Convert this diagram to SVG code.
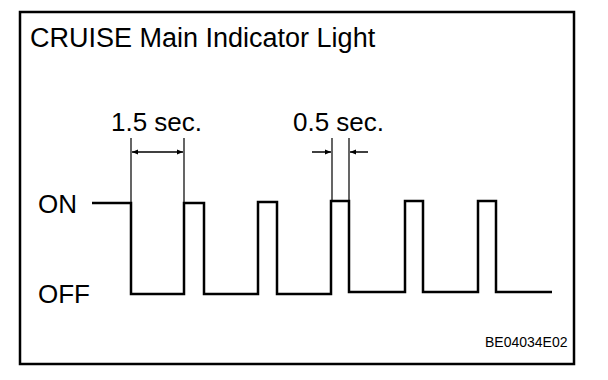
<svg xmlns="http://www.w3.org/2000/svg" width="608" height="380" viewBox="0 0 608 380">
<style>
text{font-family:"Liberation Sans",Arial,sans-serif;fill:#000}
.big{font-size:26px}
.title{font-size:27px}
.code{font-size:14px}
.wave{fill:none;stroke:#000;stroke-width:2.5;stroke-linejoin:miter}
.ext{fill:none;stroke:#000;stroke-width:1.2}
.dim{fill:none;stroke:#000;stroke-width:1.5}
</style>
<defs>
<marker id="ah" viewBox="0 0 10 10" refX="10" refY="5" markerWidth="8" markerHeight="6" markerUnits="userSpaceOnUse" orient="auto-start-reverse">
<path d="M0,1 L10,5 L0,9 Z" fill="#000"/>
</marker>
</defs>
<rect x="20" y="12" width="554" height="352" fill="#fff" stroke="#000" stroke-width="2.5"/>
<g id="title"><text class="title" x="30" y="47">CRUISE Main Indicator Light</text></g>
<g id="label-on"><text class="big" x="38" y="213">ON</text></g>
<g id="label-off"><text class="big" x="38" y="303">OFF</text></g>
<g id="label-15"><text class="big" x="111" y="131">1.5 sec.</text></g>
<g id="label-05"><text class="big" x="293" y="131">0.5 sec.</text></g>
<g id="code"><text class="code" x="485" y="347">BE04034E02</text></g>
<g id="connectors">
<path id="waveform" class="wave" d="M92,203 H131 V294 H184 V203 H204 V294 H258 V202 H277 V294 H331 V201 H349 V292 H405 V201 H423 V292 H478 V201 H496 V292 H552"/>
<path class="ext" d="M131,138 V203 M184,138 V203 M332,138 V201 M349,138 V201"/>
<line class="dim" x1="132" y1="152" x2="183" y2="152" marker-start="url(#ah)" marker-end="url(#ah)"/>
<line class="dim" x1="312" y1="152" x2="331" y2="152" marker-end="url(#ah)"/>
<line class="dim" x1="368" y1="152" x2="350" y2="152" marker-end="url(#ah)"/>
</g>
</svg>
